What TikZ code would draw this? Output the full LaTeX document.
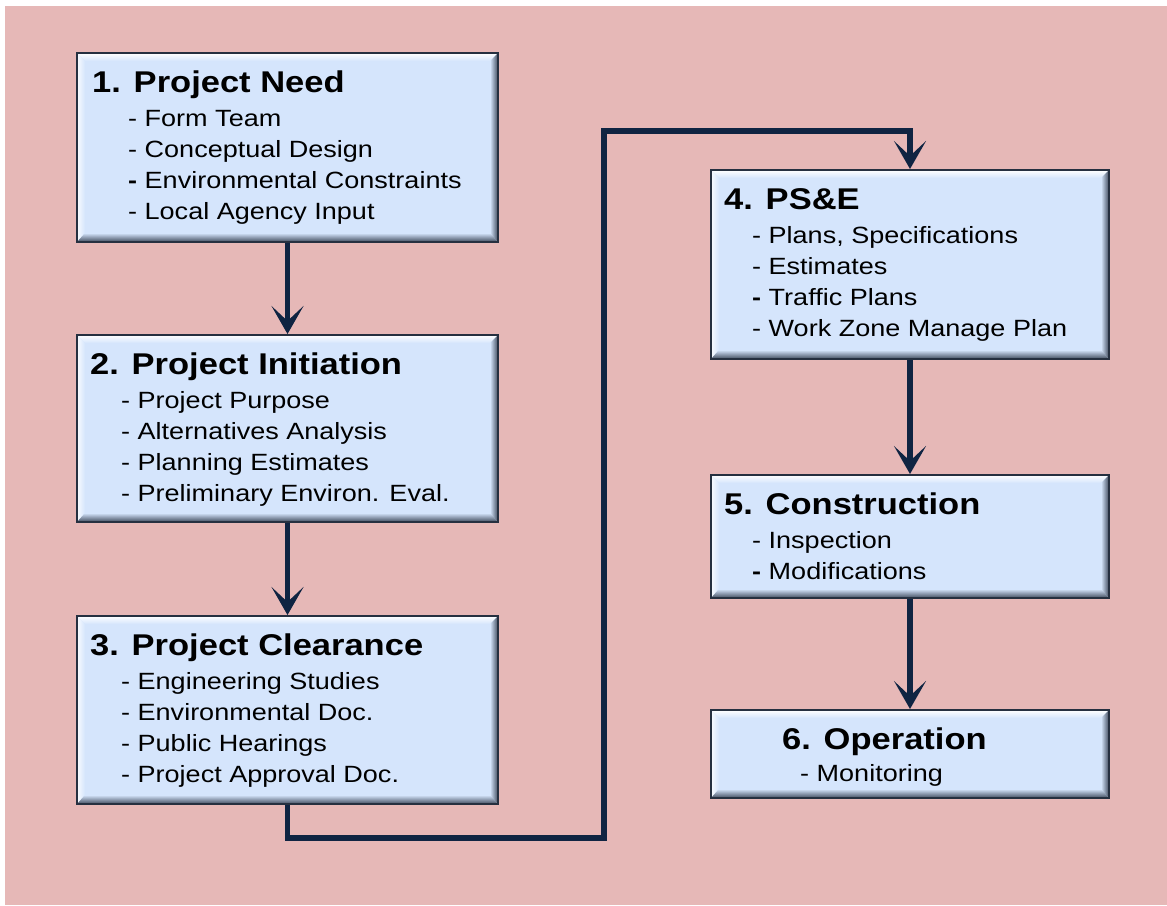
\documentclass[tikz,border=0pt]{standalone}
\usepackage{fontspec}
\setmainfont{Liberation Sans}[FakeStretch=1.15]
\usetikzlibrary{arrows.meta,calc}
\definecolor{pagepink}{HTML}{E6B8B7}
\definecolor{boxfill}{HTML}{D5E5FC}
\definecolor{boxedge}{HTML}{263040}
\definecolor{bevdark}{HTML}{3F4A5C}
\definecolor{flowline}{HTML}{0F2442}
\tikzset{
  stagebox/.style={draw=boxedge, line width=2pt, fill=boxfill, inner sep=0pt,
    anchor=north west, minimum width=#1,
    path picture={
      \coordinate (pnw) at (path picture bounding box.north west);
      \coordinate (pne) at (path picture bounding box.north east);
      \coordinate (psw) at (path picture bounding box.south west);
      \coordinate (pse) at (path picture bounding box.south east);
      % bevel bands: light top/left, dark bottom/right
      \shade[top color=white, bottom color=boxfill]
        (pnw) -- (pne) -- ($(pne)+(-8pt,-8pt)$) -- ($(pnw)+(8pt,-8pt)$) -- cycle;
      \shade[left color=white!85!boxfill, right color=boxfill]
        (pnw) -- ($(pnw)+(8pt,-8pt)$) -- ($(psw)+(8pt,9pt)$) -- (psw) -- cycle;
      \shade[top color=boxfill, bottom color=bevdark]
        (psw) -- (pse) -- ($(pse)+(-8pt,9pt)$) -- ($(psw)+(8pt,9pt)$) -- cycle;
      \shade[left color=boxfill, right color=bevdark]
        (pne) -- (pse) -- ($(pse)+(-8pt,9pt)$) -- ($(pne)+(-8pt,-8pt)$) -- cycle;
    }},
  stagetitle/.style={anchor=base west, inner sep=0pt,
    font=\fontsize{30}{32}\selectfont\bfseries},
  stageitem/.style={anchor=base west, inner sep=0pt,
    font=\fontsize{23.5}{25}\selectfont},
  flow/.style={draw=flowline, line width=5.5pt},
  flowarrow/.style={flow, -{Stealth[length=28pt,width=32pt,inset=15pt]}},
}
\begin{document}
\begin{tikzpicture}[x=1pt,y=-1pt]
\useasboundingbox (0,0) rectangle (1167,905);
\fill[white] (0,0) rectangle (1167,905);
\fill[pagepink] (5,6) rectangle (1167,905);

% stage boxes
\node[stagebox=421pt, minimum height=189pt] (b1) at (76,52) {};
\node[stagebox=421pt, minimum height=187pt] (b2) at (76,334) {};
\node[stagebox=421pt, minimum height=188pt] (b3) at (76,615) {};
\node[stagebox=398pt, minimum height=189pt] (b4) at (710,169) {};
\node[stagebox=398pt, minimum height=123pt] (b5) at (710,474) {};
\node[stagebox=398pt, minimum height=88pt]  (b6) at (710,709) {};

% stage 1
\node[stagetitle] (t1) at (92,92) {1. Project Need};
\node[stageitem] (b1i1) at (128,126) {- Form Team};
\node[stageitem] (b1i2) at (128,157) {- Conceptual Design};
\node[stageitem] (b1i3) at (128,188) {\textbf{-} Environmental Constraints};
\node[stageitem] (b1i4) at (128,219) {- Local Agency Input};

% stage 2
\node[stagetitle] (t2) at (90,374) {2. Project Initiation};
\node[stageitem] (b2i1) at (121,408) {- Project Purpose};
\node[stageitem] (b2i2) at (121,439) {- Alternatives Analysis};
\node[stageitem] (b2i3) at (121,470) {- Planning Estimates};
\node[stageitem] (b2i4) at (121,501) {- Preliminary Environ. Eval.};

% stage 3
\node[stagetitle] (t3) at (90,655) {3. Project Clearance};
\node[stageitem] (b3i1) at (121,689) {- Engineering Studies};
\node[stageitem] (b3i2) at (121,720) {- Environmental Doc.};
\node[stageitem] (b3i3) at (121,751) {- Public Hearings};
\node[stageitem] (b3i4) at (121,782) {- Project Approval Doc.};

% stage 4
\node[stagetitle] (t4) at (724,209) {4. PS\&E};
\node[stageitem] (b4i1) at (752,243) {- Plans, Specifications};
\node[stageitem] (b4i2) at (752,274) {- Estimates};
\node[stageitem] (b4i3) at (752,305) {\textbf{-} Traffic Plans};
\node[stageitem] (b4i4) at (752,336) {- Work Zone Manage Plan};

% stage 5
\node[stagetitle] (t5) at (724,514) {5. Construction};
\node[stageitem] (b5i1) at (752,548) {- Inspection};
\node[stageitem] (b5i2) at (752,579) {\textbf{-} Modifications};

% stage 6
\node[stagetitle] (t6) at (782,749) {6. Operation};
\node[stageitem] (b6i1) at (800,781) {- Monitoring};

% connectors
\coordinate (turnlow) at (604,838);
\coordinate (turnhigh) at (604,131);
\draw[flowarrow] (b1.south) -- (b2.north);
\draw[flowarrow] (b2.south) -- (b3.north);
\draw[flowarrow] (b3.south) |- (turnlow) -- (turnhigh) -| (b4.north);
\draw[flowarrow] (b4.south) -- (b5.north);
\draw[flowarrow] (b5.south) -- (b6.north);
\end{tikzpicture}
\end{document}
